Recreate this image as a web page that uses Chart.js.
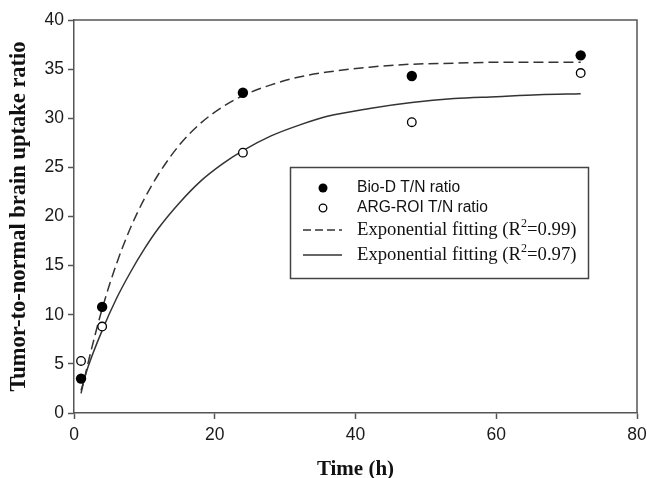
<!DOCTYPE html>
<html>
<head>
<meta charset="utf-8">
<script src="https://cdn.jsdelivr.net/npm/chart.js@4"></script>
<style>
  html, body { margin: 0; padding: 0; background: #fff; }
  #wrap { width: 647px; height: 478px; }
</style>
</head>
<body>
<div id="wrap"><canvas id="c" width="647" height="478"></canvas></div>
<script>
// measured points
const timeH = [1, 4, 24, 48, 72]
const bioD = [3.5, 10.8, 32.6, 34.3, 36.4]
const argRoi = [5.3, 8.8, 26.5, 29.6, 34.6]

// fitted curves
const fitTime = [1, 2, 4, 6, 8, 10, 12, 15, 18, 21, 24, 28, 32, 36, 42, 48, 54, 60, 66, 72]
const fitBioD = [2.0, 5.1, 10.6, 15.1, 18.8, 21.8, 24.3, 27.3, 29.5, 31.1, 32.3, 33.4, 34.2, 34.7, 35.2, 35.5, 35.6, 35.7, 35.7, 35.7]
const fitArg = [2.3, 4.7, 8.4, 11.6, 14.3, 16.7, 18.8, 21.4, 23.6, 25.3, 26.7, 28.2, 29.3, 30.2, 31.0, 31.6, 32.0, 32.2, 32.4, 32.5]

const xTicks = [0, 20, 40, 60, 80]
const yTicks = [0, 5, 10, 15, 20, 25, 30, 35, 40]
const legendLabels = ["Bio-D T/N ratio", "ARG-ROI T/N ratio", "Exponential fitting (R", "Exponential fitting (R"]
const legendR2 = ["", "", "=0.99)", "=0.97)"]

const toXY = (xs, ys) => xs.map((x, i) => ({ x: x, y: ys[i] }))
const axisColor = "#555"

//Plug in per cornice e legenda
const frameAndLegend = {
  id: "frameAndLegend",
  afterDraw(chart) {
    const { ctx, chartArea } = chart
    ctx.save()
    ctx.strokeStyle = axisColor
    ctx.lineWidth = 1.5
    ctx.beginPath()
    ctx.moveTo(chartArea.left, chartArea.top)
    ctx.lineTo(chartArea.right, chartArea.top)
    ctx.lineTo(chartArea.right, chartArea.bottom)
    ctx.stroke()

    // legend box
    ctx.fillStyle = "#fff"
    ctx.fillRect(291, 168, 297, 110)
    ctx.strokeStyle = "#444"
    ctx.lineWidth = 1.5
    ctx.strokeRect(290.5, 167.5, 298, 111)

    const rows = [188, 208, 230, 255]
    const tx = 357
    // markers
    ctx.fillStyle = "#000"
    ctx.beginPath()
    ctx.arc(323, rows[0], 4.5, 0, Math.PI * 2)
    ctx.fill()
    ctx.strokeStyle = "#000"
    ctx.lineWidth = 1.3
    ctx.beginPath()
    ctx.arc(323, rows[1], 3.8, 0, Math.PI * 2)
    ctx.stroke()
    // line samples
    ctx.strokeStyle = "#333"
    ctx.lineWidth = 1.5
    ctx.setLineDash([8, 4])
    ctx.beginPath()
    ctx.moveTo(303, rows[2])
    ctx.lineTo(342, rows[2])
    ctx.stroke()
    ctx.setLineDash([])
    ctx.beginPath()
    ctx.moveTo(303, rows[3])
    ctx.lineTo(342, rows[3])
    ctx.stroke()

    ctx.fillStyle = "#111"
    ctx.textBaseline = "middle"
    ctx.textAlign = "left"
    ctx.font = "15.6px 'Liberation Sans', Arial, sans-serif"
    ctx.fillText(legendLabels[0], tx, rows[0])
    ctx.fillText(legendLabels[1], tx, rows[1])
    for (let i = 2; i < 4; i++) {
      ctx.font = "18.7px 'Liberation Serif', 'Times New Roman', serif"
      ctx.fillText(legendLabels[i], tx, rows[i])
      let w = ctx.measureText(legendLabels[i]).width
      ctx.font = "12px 'Liberation Serif', 'Times New Roman', serif"
      ctx.fillText("2", tx + w, rows[i] - 6)
      let w2 = ctx.measureText("2").width
      ctx.font = "18.7px 'Liberation Serif', 'Times New Roman', serif"
      ctx.fillText(legendR2[i], tx + w + w2, rows[i])
    }
    ctx.restore()
  },
}

const ctx = document.getElementById("c").getContext("2d")
let chart = new Chart(ctx, {
  type: "scatter",
  plugins: [frameAndLegend],
  data: {
    datasets: [
      {
        label: "Bio-D T/N ratio",
        data: toXY(timeH, bioD),
        pointRadius: 5.2,
        pointBackgroundColor: "#000",
        pointBorderColor: "#000",
        pointBorderWidth: 0,
        showLine: false,
        order: 1,
      },
      {
        label: "ARG-ROI T/N ratio",
        data: toXY(timeH, argRoi),
        pointRadius: 4.3,
        pointBackgroundColor: "#fff",
        pointBorderColor: "#000",
        pointBorderWidth: 1.3,
        showLine: false,
        order: 0,
      },
      {
        label: "Exponential fitting (R2=0.99)",
        data: toXY(fitTime, fitBioD),
        showLine: true,
        pointRadius: 0,
        borderColor: "#333",
        borderWidth: 1.5,
        borderDash: [10, 5],
        cubicInterpolationMode: "monotone",
        order: 2,
      },
      {
        label: "Exponential fitting (R2=0.97)",
        data: toXY(fitTime, fitArg),
        showLine: true,
        pointRadius: 0,
        borderColor: "#333",
        borderWidth: 1.5,
        cubicInterpolationMode: "monotone",
        order: 3,
      },
    ],
  },
  options: {
    responsive: false,
    animation: false,
    layout: { padding: { top: 20, right: 0, left: 0, bottom: 0 } },
    plugins: {
      legend: { display: false },
      tooltip: { enabled: false },
    },
    scales: {
      x: {
        type: "linear",
        min: 0,
        max: 80,
        afterFit(scale) {
          scale.height = 65
          scale.paddingRight = 10
        },
        afterBuildTicks(scale) { scale.ticks = xTicks.map(v => ({ value: v })) },
        grid: { drawOnChartArea: false, tickLength: 6, tickColor: axisColor, tickWidth: 1.5 },
        border: { color: axisColor, width: 1.5 },
        ticks: {
          color: "#1a1a1a",
          padding: 6,
          maxRotation: 0,
          font: { family: "'Liberation Sans', Arial, sans-serif", size: 17.5 },
        },
        title: {
          display: true,
          text: "Time (h)",
          color: "#111",
          padding: { top: 0, bottom: -4 },
          font: { family: "'Liberation Serif', 'Times New Roman', serif", size: 21, weight: "bold" },
        },
      },
      y: {
        type: "linear",
        min: 0,
        max: 40,
        afterFit(scale) { scale.width = 74 },
        afterBuildTicks(scale) { scale.ticks = yTicks.map(v => ({ value: v })) },
        grid: { drawOnChartArea: false, tickLength: 6, tickColor: axisColor, tickWidth: 1.5 },
        border: { color: axisColor, width: 1.5 },
        ticks: {
          color: "#1a1a1a",
          padding: 4,
          font: { family: "'Liberation Sans', Arial, sans-serif", size: 17.5 },
        },
        title: {
          display: true,
          text: "Tumor-to-normal brain uptake ratio",
          color: "#111",
          padding: { top: 6, bottom: 0 },
          font: { family: "'Liberation Serif', 'Times New Roman', serif", size: 22.5, weight: "bold" },
        },
      },
    },
  },
})
</script>
</body>
</html>
